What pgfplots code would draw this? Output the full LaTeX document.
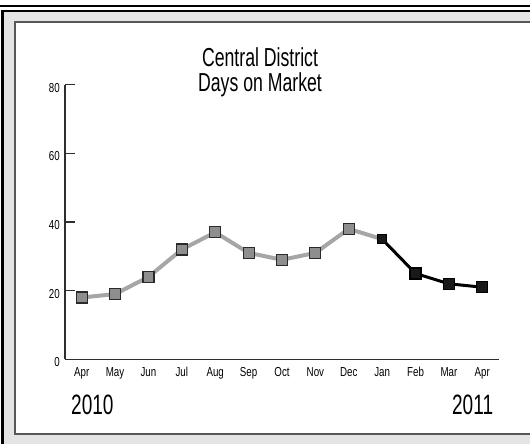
\documentclass[border=0pt]{standalone}
\usepackage{fontspec}
\setmainfont{Liberation Sans}
\newfontfamily\titlefont[FakeStretch=0.68]{Liberation Sans}
\newfontfamily\tickfont[FakeStretch=0.75]{Liberation Sans}
\usepackage{pgfplots}
\pgfplotsset{compat=1.18}
\definecolor{band}{HTML}{E4E4E4}
\definecolor{innerline}{HTML}{585858}
\definecolor{axisc}{HTML}{2E2E2E}
\definecolor{greyline}{HTML}{A6A6A6}
\definecolor{greymark}{HTML}{8E8E8E}
\definecolor{markedge}{HTML}{2A2A2A}
\begin{document}
\begin{tikzpicture}[x=1pt,y=1pt]
\useasboundingbox (0pt,0pt) rectangle (530pt,444pt);
\fill[white] (0pt,0pt) rectangle (530pt,444pt);
\fill[black] (0pt,437pt) rectangle (530pt,439pt);
\fill[band] (1pt,-2pt) rectangle (532pt,434pt);
\fill[black] (1pt,-2pt) rectangle (4pt,434pt);
\fill[black] (1pt,431.7pt) rectangle (532pt,434pt);
\draw[line width=1.8pt, draw=innerline, fill=white] (15pt,10.3pt) rectangle (540pt,421.8pt);
\node[anchor=base, inner sep=0, font=\titlefont\fontsize{26}{30}\selectfont] at (260pt,377.3pt) {Central District};
\node[anchor=base, inner sep=0, font=\titlefont\fontsize{26}{30}\selectfont] at (260pt,352.3pt) {Days on Market};
\node[anchor=base west, inner sep=0, font=\titlefont\fontsize{28}{32}\selectfont] at (71pt,29pt) {2010};
\node[anchor=base east, inner sep=0, font=\titlefont\fontsize{28}{32}\selectfont] at (493.3pt,29pt) {2011};
\begin{axis}[
  at={(65pt,84.7pt)}, anchor=south west,
  scale only axis, width=434pt, height=274.6pt,
  xmin=-0.5, xmax=12.5, ymin=0, ymax=80,
  axis x line=bottom, axis y line=left,
  axis line style={-, draw=axisc, line width=1.5pt},
  every tick/.style={draw=axisc, line width=1.3pt},
  tick align=inside,
  xtick={0,...,12},
  xticklabels={Apr,May,Jun,Jul,Aug,Sep,Oct,Nov,Dec,Jan,Feb,Mar,Apr},
  minor xtick={0.5,1.5,...,12.5},
  xtick style={draw=none},
  minor tick length=7pt,
  every minor tick/.style={draw=axisc, line width=1.3pt},
  xticklabel style={anchor=base, inner sep=0, yshift=-17.4pt, font=\tickfont\fontsize{13}{15}\selectfont},
  ytick={0,20,40,60,80},
  yticklabels={0,20,40,60,80},
  major tick length=10pt,
  yticklabel style={anchor=east, inner sep=0, xshift=-5pt, yshift=-3pt, font=\tickfont\fontsize{13}{15}\selectfont},
  /pgf/number format/assume math mode=true,
  clip=false,
]
\addplot[color=greyline, line width=4pt, mark=square*, mark indices={1,...,9},
  mark size=5.5pt, mark options={fill=greymark, draw=markedge, line width=1.2pt, solid}]
  coordinates {(0,18) (1,19) (2,24) (3,32) (4,37) (5,31) (6,29) (7,31) (8,38) (9,35)};
\addplot[color=black, line width=3pt, mark=square*, mark indices={2,3,4},
  mark size=5.5pt, mark options={fill=black!90, draw=black, line width=1.2pt, solid}]
  coordinates {(9,35) (10,25) (11,22) (12,21)};
\addplot[only marks, mark=square*, mark size=4.5pt, mark options={fill=black!90, draw=black, line width=1pt}]
  coordinates {(9,35)};
\end{axis}
\end{tikzpicture}
\end{document}
